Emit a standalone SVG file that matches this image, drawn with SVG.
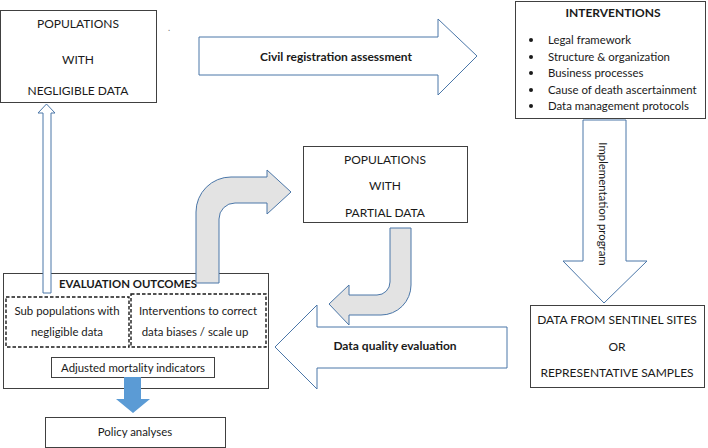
<svg xmlns="http://www.w3.org/2000/svg" width="708" height="448" viewBox="0 0 708 448">
<style>
text{font-family:Lato,"Liberation Sans",sans-serif;font-size:12px;fill:#1a1a1a}
.s{font-size:11.4px}
.c{text-anchor:middle}
.b{font-weight:bold}
.box{fill:#fff;stroke:#404040;stroke-width:1}
.dash{fill:none;stroke:#1a1a1a;stroke-width:1.4;stroke-dasharray:3.5 2}
.oa{fill:#fff;stroke:#4a76a8;stroke-width:1}
.ga{fill:#e3e3e3;stroke:#4a76a8;stroke-width:1}
.ba{fill:#5b9bd5;stroke:none}
</style>
<rect width="708" height="448" fill="#fff"/>
<g id="negligible">
<rect class="box" x="0.5" y="10.5" width="156" height="92"/>
<text class="c" x="78" y="28">POPULATIONS</text>
<text class="c" x="78" y="64">WITH</text>
<text class="c" x="78" y="95">NEGLIGIBLE DATA</text>
</g>
<text x="168" y="31" style="font-size:9px;fill:#777">.</text>
<g id="interventions">
<rect class="box" x="515.5" y="1.5" width="190" height="117"/>
<text class="c b" x="613" y="17">INTERVENTIONS</text>
<g fill="#1a1a1a"><circle cx="531" cy="40" r="2"/><circle cx="531" cy="57" r="2"/><circle cx="531" cy="73" r="2"/><circle cx="531" cy="90" r="2"/><circle cx="531" cy="106" r="2"/></g>
<text class="s" x="548" y="44">Legal framework</text>
<text class="s" x="548" y="61">Structure &amp; organization</text>
<text class="s" x="548" y="77">Business processes</text>
<text class="s" x="548" y="94">Cause of death ascertainment</text>
<text class="s" x="548" y="110">Data management protocols</text>
</g>
<g id="partial">
<rect class="box" x="303.5" y="146.5" width="164" height="76"/>
<text class="c" x="385" y="164">POPULATIONS</text>
<text class="c" x="385" y="190">WITH</text>
<text class="c" x="385" y="217">PARTIAL DATA</text>
</g>
<g id="sentinel">
<rect class="box" x="530.5" y="305.5" width="174" height="82"/>
<text class="c" x="617" y="324">DATA FROM SENTINEL SITES</text>
<text class="c" x="617" y="351">OR</text>
<text class="c" x="617" y="377">REPRESENTATIVE SAMPLES</text>
</g>
<g id="evaluation">
<rect class="box" x="3.5" y="273.5" width="265" height="115"/>
<text class="c b s" x="128" y="288">EVALUATION OUTCOMES</text>
<rect class="dash" x="6" y="297" width="123" height="50"/>
<rect class="dash" x="131" y="294" width="135" height="53"/>
<text class="c s" x="67" y="315">Sub populations with</text>
<text class="c s" x="67" y="336">negligible data</text>
<text class="c s" x="198" y="315">Interventions to correct</text>
<text class="c s" x="195" y="336">data biases /  scale up</text>
<rect class="box" x="51.5" y="357.5" width="163" height="20"/>
<text class="c s" x="133" y="372">Adjusted mortality indicators</text>
</g>
<g id="policy">
<rect class="box" x="45.5" y="417.5" width="180" height="30"/>
<text class="c s" x="135" y="436">Policy analyses</text>
</g>
<g id="connectors">
<path class="oa" d="M199,37 L438,37 L438,19 L477,56 L438,95 L438,75 L199,75 Z"/>
<text class="c b" x="336" y="61">Civil registration assessment</text>
<path class="oa" d="M583,120 L626,120 L626,261 L647,261 L604,303 L563,261 L583,261 Z"/>
<text class="c s" x="599" y="204" transform="rotate(90 599 204)">Implementation program</text>
<path class="oa" d="M507,327 L507,368 L317,368 L317,389 L275,347 L317,305 L317,327 Z"/>
<text class="c b" x="395" y="350">Data quality evaluation</text>
<path class="oa" d="M43,293 L43,113 L38,113 L46.5,104 L55,113 L51,113 L51,293 Z"/>
<path class="ga" d="M196,283 L196,212 A35,35 0 0 1 231,177 L267,177 L267,170 L291,192 L267,214 L267,203 L235,203 A16,16 0 0 0 219,219 L219,283 Z"/>
<path class="ga" d="M390,228 L411,228 L411,285 A30,30 0 0 1 381,315 L349,315 L349,325 L329,304 L349,285 L349,295 L377,295 A13,13 0 0 0 390,282 Z"/>
<path class="ba" d="M124,377 L141,377 L141,399 L150,399 L133,413 L116,399 L124,399 Z"/>
</g>
</svg>
